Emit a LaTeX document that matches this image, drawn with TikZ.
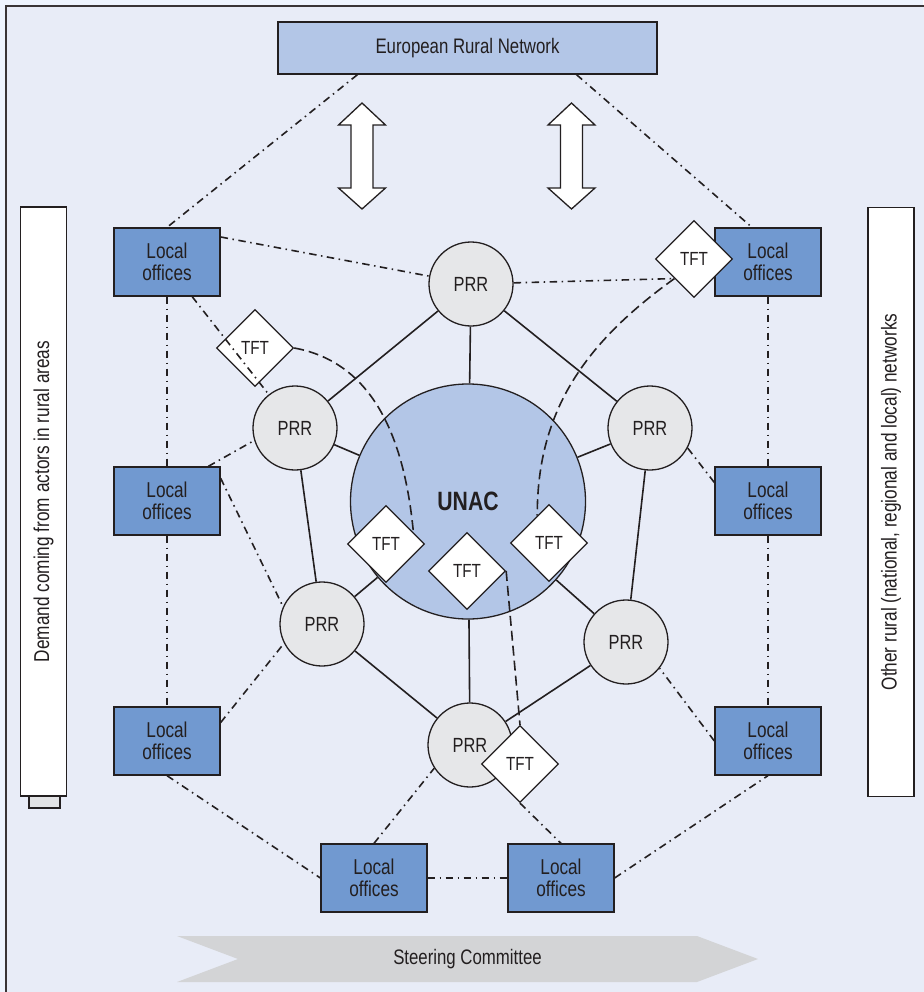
\documentclass[tikz,border=0pt]{standalone}
\usepackage{fontspec}
\setmainfont[FakeStretch=0.8]{Liberation Sans}
\usepackage{xcolor}
\usetikzlibrary{shapes.geometric,calc}

\definecolor{pagebg}{HTML}{EEF4FE}
\definecolor{framebg}{HTML}{E8ECF7}
\definecolor{ernblue}{HTML}{B3C6E7}
\definecolor{locblue}{HTML}{7199D0}
\definecolor{prrgray}{HTML}{E6E7E9}
\definecolor{steergray}{HTML}{D3D4D6}
\definecolor{tabgray}{HTML}{E2E3E5}
\definecolor{ink}{HTML}{231F20}

\begin{document}
\begin{tikzpicture}[
    x=1pt,y=-1pt,
    office/.style={draw=ink, line width=1.3pt, fill=locblue, minimum width=106pt, minimum height=68pt, inner sep=0pt, align=center, text=ink, font=\fontsize{21.5}{22}\selectfont},
    prr/.style={circle, draw=ink, line width=1.3pt, fill=prrgray, minimum size=84pt, inner sep=0pt, text=ink, font=\fontsize{20.5}{22}\selectfont},
    tft/.style={diamond, draw=ink, line width=1.3pt, fill=white, minimum width=77pt, minimum height=77pt, inner sep=0pt, text=ink, font=\fontsize{19}{21}\selectfont},
    sidebar/.style={rotate=90, draw=ink, line width=1.3pt, fill=white, minimum width=589pt, minimum height=46pt, inner sep=0pt, text=ink, font=\fontsize{21.5}{23}\selectfont},
    tie/.style={draw=ink, line width=1.6pt},
    link/.style={draw=ink, line width=1.6pt, dash pattern=on 7.5pt off 4.5pt on 1.5pt off 4.5pt},
    flow/.style={draw=ink, line width=1.6pt, dash pattern=on 10pt off 5pt},
    twoway/.style={draw=ink, line width=1.3pt, fill=white}
  ]
    \useasboundingbox (0,0) rectangle (923,992);
    \fill[pagebg] (0,0) rectangle (923,992);
    \draw[draw=ink!90, line width=2pt, fill=framebg] (6,6) rectangle (960,1030);

    \node[sidebar] (demand) at (43.5,501.5) {Demand coming from actors in rural areas};
    \node[draw=ink, line width=1.2pt, fill=tabgray, minimum width=31pt, minimum height=12pt, inner sep=0pt] (demandtab) at (44.5,802) {};
    \node[sidebar] (others) at (891,502) {Other rural (national, regional and local) networks};

    \node[draw=ink, line width=1.3pt, fill=ernblue, minimum width=379pt, minimum height=52pt, inner sep=0pt, text=ink, font=\fontsize{21}{23}\selectfont] (ern) at (467.5,48) {European Rural Network};

    \draw[twoway] (362,103) -- (385.5,125) -- (373,125) -- (373,188) -- (385.5,188) -- (362,209) -- (338.5,188) -- (351,188) -- (351,125) -- (338.5,125) -- cycle;
    \draw[twoway] (571.5,103) -- (595,125) -- (582.5,125) -- (582.5,188) -- (595,188) -- (571.5,209) -- (548,188) -- (560.5,188) -- (560.5,125) -- (548,125) -- cycle;

    \fill[steergray] (177,936) -- (697,936) -- (758,959) -- (697,982) -- (177,982) -- (238,959) -- cycle;
    \node[text=ink, font=\fontsize{21}{23}\selectfont] (steer) at (467.5,959) {Steering Committee};

    \node[office] (lotl) at (167,262) {Local\\offices};
    \node[office] (lotr) at (768,262) {Local\\offices};
    \node[office] (loml) at (167,501) {Local\\offices};
    \node[office] (lomr) at (768,501) {Local\\offices};
    \node[office] (lobl) at (167,741) {Local\\offices};
    \node[office] (lobr) at (768,741) {Local\\offices};
    \node[office] (lob1) at (374,878) {Local\\offices};
    \node[office] (lob2) at (561,878) {Local\\offices};

    \node[circle, draw=ink, line width=1.3pt, fill=ernblue, minimum size=235pt, inner sep=0pt, text=ink, font=\fontsize{26.5}{28}\selectfont\bfseries] (unac) at (468,501.5) {UNAC};

    \node[prr] (prrt) at (471,284) {PRR};
    \node[prr] (prrul) at (295,428) {PRR};
    \node[prr] (prrur) at (650,428) {PRR};
    \node[prr] (prrll) at (322,624) {PRR};
    \node[prr] (prrlr) at (626,642) {PRR};
    \node[prr] (prrb) at (470,745) {PRR};

    \draw[tie] (prrt) -- (unac);
    \draw[tie] (prrt) -- (prrul);
    \draw[tie] (prrt) -- (prrur);
    \draw[tie] (prrul) -- (unac);
    \draw[tie] (prrur) -- (unac);
    \draw[tie] (prrul) -- (prrll);
    \draw[tie] (prrur) -- (prrlr);
    \draw[tie] (prrll) -- (unac);
    \draw[tie] (prrlr) -- (unac);
    \draw[tie] (prrll) -- (prrb);
    \draw[tie] (prrlr) -- (prrb);
    \draw[tie] (prrb) -- (unac);

    \node[tft] (tftul) at (255,348) {TFT};
    \node[tft] (tftur) at (694,259) {TFT};
    \node[tft] (tftl) at (386,544) {TFT};
    \node[tft] (tftc) at (467,571) {TFT};
    \node[tft] (tftr) at (549,543) {TFT};
    \node[tft] (tftb) at (520,764) {TFT};

    \draw[flow] (tftul.east) .. controls (377,363) and (405,445) .. ($(tftl.north)!0.7!(tftl.east)$);
    \draw[flow] (tftur.south west) .. controls (586,342) and (537,410) .. ($(tftr.north)!0.3!(tftr.west)$);
    \draw[flow] (tftc.east) -- (tftb.north);

    \draw[link] ($(ern.south)+(-110,0)$) -- (lotl.north);
    \draw[link] ($(ern.south)+(109,0)$) -- ($(lotr.north)+(-16,0)$);
    \draw[link] (lotl.25) -- (prrt);
    \draw[link] (prrt) -- (tftur.south west);
    \draw[link] (lotl.-54) -- (prrul);
    \draw[link] (lotl) -- (loml);
    \draw[link] (loml) -- (lobl);
    \draw[link] (lotr) -- (lomr);
    \draw[link] (lomr) -- (lobr);
    \draw[link] (loml.40) -- (prrul.197);
    \draw[link] (loml.23) -- (prrll.156);
    \draw[link] (lobl.19) -- (prrll.207);
    \draw[link] (lobl.south) -- (lob1.west);
    \draw[link] (lob1.north) -- (prrb.213);
    \draw[link] (lob1) -- (lob2);
    \draw[link] (tftb.south) -- (lob2.north);
    \draw[link] (lob2.east) -- (lobr.south);
    \draw[link] (lobr.west) -- (prrlr.-38);
    \draw[link] (lomr.161) -- (prrur.-28);
\end{tikzpicture}
\end{document}
